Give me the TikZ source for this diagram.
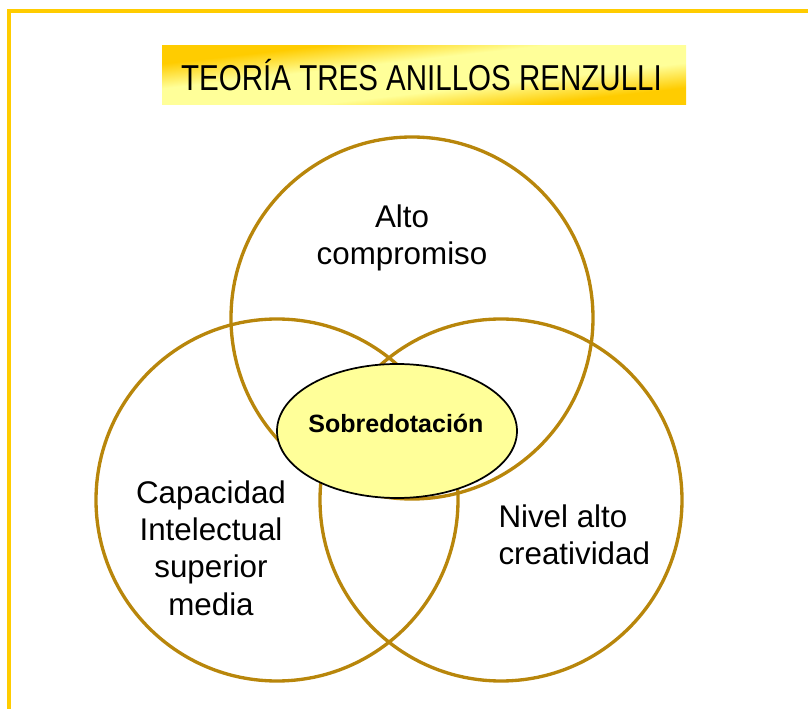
\documentclass[tikz,border=0pt]{standalone}
\usepackage{fontspec}
\setmainfont{Liberation Sans}
\newfontfamily\titlefont[FakeStretch=0.82]{Liberation Sans}
\usetikzlibrary{shapes.geometric}

\definecolor{frameGold}{RGB}{255,204,0}
\definecolor{ringGold}{RGB}{184,134,11}
\definecolor{paleYellow}{RGB}{255,255,153}

\pgfdeclarehorizontalshading{bannerShade}{100bp}{color(0bp)=(frameGold); color(25bp)=(frameGold); color(40bp)=(paleYellow); color(60bp)=(paleYellow); color(75bp)=(frameGold); color(100bp)=(frameGold)}

\tikzset{every picture/.style={line width=0.75pt}}
\tikzset{
  ring/.style={circle,draw=ringGold,line width=2.5pt,minimum size=271.5pt,inner sep=0pt},
  ringtext/.style={font=\fontsize{23.5}{28}\selectfont,inner sep=0.75pt},
  core/.style={ellipse,draw=black,line width=1.3pt,fill=paleYellow,minimum width=180pt,minimum height=100.5pt,inner sep=0pt},
  banner/.style={shading=bannerShade,shading angle=-45}
}

\begin{document}
\begin{tikzpicture}[x=0.75pt,y=0.75pt,yscale=-1,xscale=1]
\useasboundingbox (0,0) rectangle (808,709);

%Straight Lines [id:frame]
\coordinate (frameTL) at (9,11);
\coordinate (frameTR) at (808,11);
\coordinate (frameBL) at (9,709);
\draw [color=frameGold, line width=2.5pt] (frameBL) -- (frameTL) -- (frameTR) ;

%Shape: Rectangle [id:banner]
\shade [banner, transform canvas={shift={(162,-46)},xscale=5.24,yscale=0.59}] (0,0) rectangle (100,100) ;
% Text Node
\node [anchor=base, inner sep=0.75pt, font=\titlefont\fontsize{27}{32}\selectfont] (titulo) at (421.5,91) {TEORÍA TRES ANILLOS RENZULLI};

%Shape: Circle [id:compromiso]
\node [ring] (anilloA) at (412,318) {};
%Shape: Circle [id:capacidad]
\node [ring] (anilloB) at (277,500) {};
%Shape: Circle [id:creatividad]
\node [ring] (anilloC) at (501,500) {};

%Shape: Ellipse [id:sobredotacion]
\node [core] (centro) at (397,431) {};
% Text Node
\node [anchor=base, inner sep=0.75pt, font=\bfseries\fontsize{18.75}{22}\selectfont] (centroTxt) at (396,433) {Sobredotación};

% Text Node
\node [ringtext, align=center] (txtA) at (402,238) {Alto\\compromiso};
% Text Node
\node [ringtext, align=center] (txtB) at (211,548) {Capacidad\\Intelectual\\superior\\media};
% Text Node
\node [ringtext, align=left, anchor=west] (txtC) at (497,535) {Nivel alto\\creatividad};

\end{tikzpicture}
\end{document}
